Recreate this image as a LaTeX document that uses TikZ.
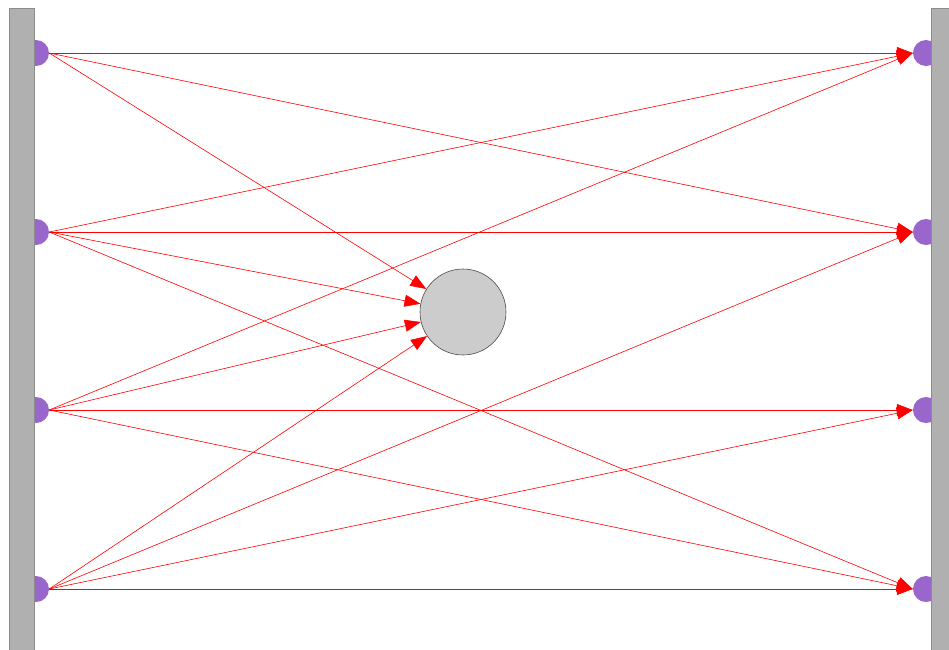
\documentclass[tikz,border=0pt]{standalone}
\usetikzlibrary{arrows.meta}
\definecolor{PortPurple}{RGB}{153,102,204}
\definecolor{WallGrey}{RGB}{176,176,176}
\begin{document}
\begin{tikzpicture}[x=1pt,y=-1pt,
  port/.style={circle,fill=PortPurple,minimum size=26pt,inner sep=0pt},
  wall/.style={fill=WallGrey,draw=black!45,line width=0.8pt},
  hub/.style={circle,fill=black!20,draw=black!70,line width=0.6pt,
              minimum size=86pt,inner sep=0pt},
  link/.style={draw=red,line width=0.6pt,-{Triangle[length=16pt,width=12pt]}},
]
\useasboundingbox (0,0) rectangle (949,649);
% ports on both walls
\foreach \i/\y in {1/53,2/232,3/410,4/589}{
  \node[port] (L\i) at (36,\y) {};
  \node[port] (R\i) at (926,\y) {};
}
\draw[wall] (9,8) rectangle (34,660);
\draw[wall] (931,8) rectangle (960,660);
\node[hub] (C) at (463,312) {};
% connectors
\foreach \a/\b in {1/1,1/2,2/1,2/2,2/4,3/1,3/3,3/4,4/2,4/3,4/4}
  \draw[link] (L\a.east) -- (R\b.west);
\foreach \a in {1,...,4}
  \draw[link] (L\a.east) -- (C);
\end{tikzpicture}
\end{document}
